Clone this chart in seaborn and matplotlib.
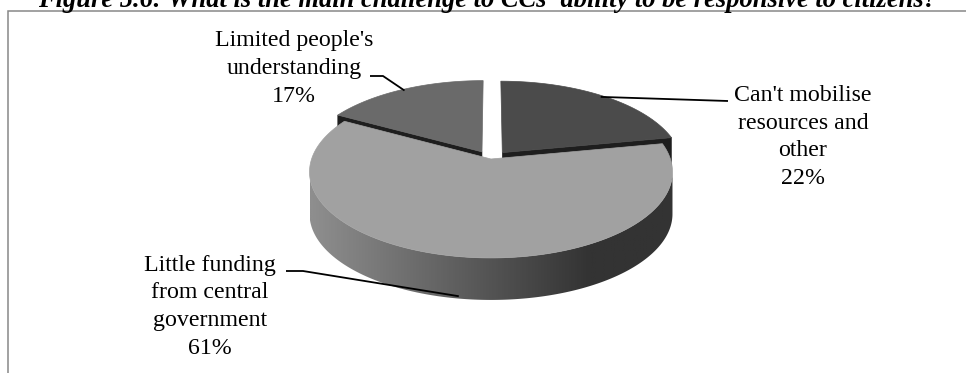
import numpy as np
import matplotlib
matplotlib.use("Agg")
import matplotlib.pyplot as plt
from matplotlib.patches import Polygon
import seaborn as sns

# Answers and their shares in percent, clockwise from 12 o'clock
categories = ["Can't mobilise\nresources and\nother",
              "Little funding\nfrom central\ngovernment",
              "Limited people's\nunderstanding"]
shares = [22, 61, 17]
title = ("Figure 5.6: What is the main challenge to CCs' ability "
         "to be responsive to citizens?")

sns.set_theme(style="white")
plt.rcParams["font.family"] = ["Liberation Serif", "DejaVu Serif"]

top_colors = sns.color_palette(["#4b4b4b", "#a1a1a1", "#6a6a6a"])
explode = [0.10, 0.0, 0.10]
face_color = "#1e1e1e"
wall_cmap = sns.blend_palette(["#8e8e8e", "#333333"], as_cmap=True)

# disc placement in pixels: centre, radii, perspective factor, thickness
CX, CY, RX, RY, K, DEPTH = 491.0, 159.0, 179.4, 84.0, 0.151, 42.0


def project(u, v, z=0.0):
    """Map a point of the unit disc (u right, v away) to the canvas."""
    w = 1.0 + K * v
    return CX + RX * u / w, CY - RY * v / w + z


fig = plt.figure(figsize=(9.66, 3.73), dpi=100)
ax = fig.add_axes([0, 0, 1, 1])
ax.set_xlim(0, 966)
ax.set_ylim(373, 0)
ax.axis("off")

total = float(sum(shares))
bounds = np.concatenate([[0.0], np.cumsum(shares)]) / total * 360.0
slices = []
for i, (a0, a1) in enumerate(zip(bounds[:-1], bounds[1:])):
    mid = np.radians((a0 + a1) / 2.0)
    off = (explode[i] * np.sin(mid), explode[i] * np.cos(mid))
    slices.append(dict(a0=a0, a1=a1, mid=mid, off=off))


def arc(s, lo, hi, z=0.0, r=1.0, n=240):
    th = np.radians(np.linspace(lo, hi, n))
    u = r * np.sin(th) + s["off"][0]
    v = r * np.cos(th) + s["off"][1]
    x, y = project(u, v, z)
    return np.column_stack([x, y])


# silhouette of the side wall (left/right extremes of the rim)
rim = np.degrees(np.arccos(-K))
wall_x0, wall_x1 = CX - RX, CX + 0.55 * RX

# paint the slices from the far side to the near side
order = sorted(range(len(shares)), key=lambda i: -np.cos(slices[i]["mid"]))
for i in order:
    s = slices[i]
    cu, cv = s["off"]
    apex_t = project(cu, cv)
    apex_b = project(cu, cv, DEPTH)

    # cut faces that turn towards the viewer
    for a, normal in ((s["a0"], s["a0"] - 90.0), (s["a1"], s["a1"] + 90.0)):
        if np.cos(np.radians(normal)) < -1e-6:
            et = arc(s, a, a, n=1)[0]
            eb = arc(s, a, a, z=DEPTH, n=1)[0]
            ax.add_patch(Polygon([apex_t, et, eb, apex_b], closed=True,
                                 facecolor=face_color, edgecolor=face_color,
                                 lw=0.4, zorder=2))

    # front rim wall with a horizontal shade
    lo, hi = max(s["a0"], rim), min(s["a1"], 360.0 - rim)
    if lo < hi:
        top = arc(s, lo, hi)
        bot = arc(s, lo, hi, z=DEPTH)[::-1]
        wall = Polygon(np.vstack([top, bot]), closed=True,
                       facecolor="none", edgecolor="none", zorder=2)
        ax.add_patch(wall)
        xs = np.linspace(top[:, 0].min(), top[:, 0].max(), 400)
        shade = np.clip((xs - wall_x0) / (wall_x1 - wall_x0), 0, 1)[None, :]
        img = ax.imshow(shade, cmap=wall_cmap, vmin=0, vmax=1, aspect="auto",
                        extent=(xs[0], xs[-1], bot[:, 1].max() + 1,
                                top[:, 1].min() - 1),
                        interpolation="bilinear", zorder=2)
        img.set_clip_path(wall)

    # top face of the slice
    face = np.vstack([[apex_t], arc(s, s["a0"], s["a1"])])
    ax.add_patch(Polygon(face, closed=True, facecolor=top_colors[i],
                         edgecolor=top_colors[i], lw=0.5, zorder=3))

ax.set_xlim(0, 966)
ax.set_ylim(373, 0)

# labels: centre x and first baseline, then the leader route to the slice
label_pos = [(803.0, 100.7), (210.0, 270.5), (294.0, 46.3)]
leader_route = [[(728.0, 101.0)],
                [(286.0, 271.0), (303.0, 271.0)],
                [(370.0, 76.0), (383.0, 76.0)]]
LINE_STEP = 27.9
for i, s in enumerate(slices):
    front = np.cos(s["mid"]) < 0
    deg = np.degrees(s["mid"])
    tip = arc(s, deg, deg, z=DEPTH if front else 0.0, r=0.98, n=1)[0]
    pts = np.array(leader_route[i] + [tuple(tip)])
    ax.plot(pts[:, 0], pts[:, 1], color="black", lw=1.3, zorder=4,
            solid_capstyle="butt")
    x0, y0 = label_pos[i]
    lines = categories[i].split("\n") + [f"{shares[i]}%"]
    for j, line in enumerate(lines):
        ax.text(x0, y0 + j * LINE_STEP, line, ha="center", va="baseline",
                fontsize=17.2, color="black", zorder=5)

# figure title (running off the top edge) and frame
ax.text(487.5, 7.0, title, ha="center", va="baseline", fontsize=19.1,
        fontweight="bold", fontstyle="italic", color="black", zorder=5)
ax.plot([7.5, 7.5, 966], [373, 10.5, 10.5], color="#888888", lw=1.1,
        solid_joinstyle="miter", zorder=1)

fig.savefig("out.png", dpi=100)
